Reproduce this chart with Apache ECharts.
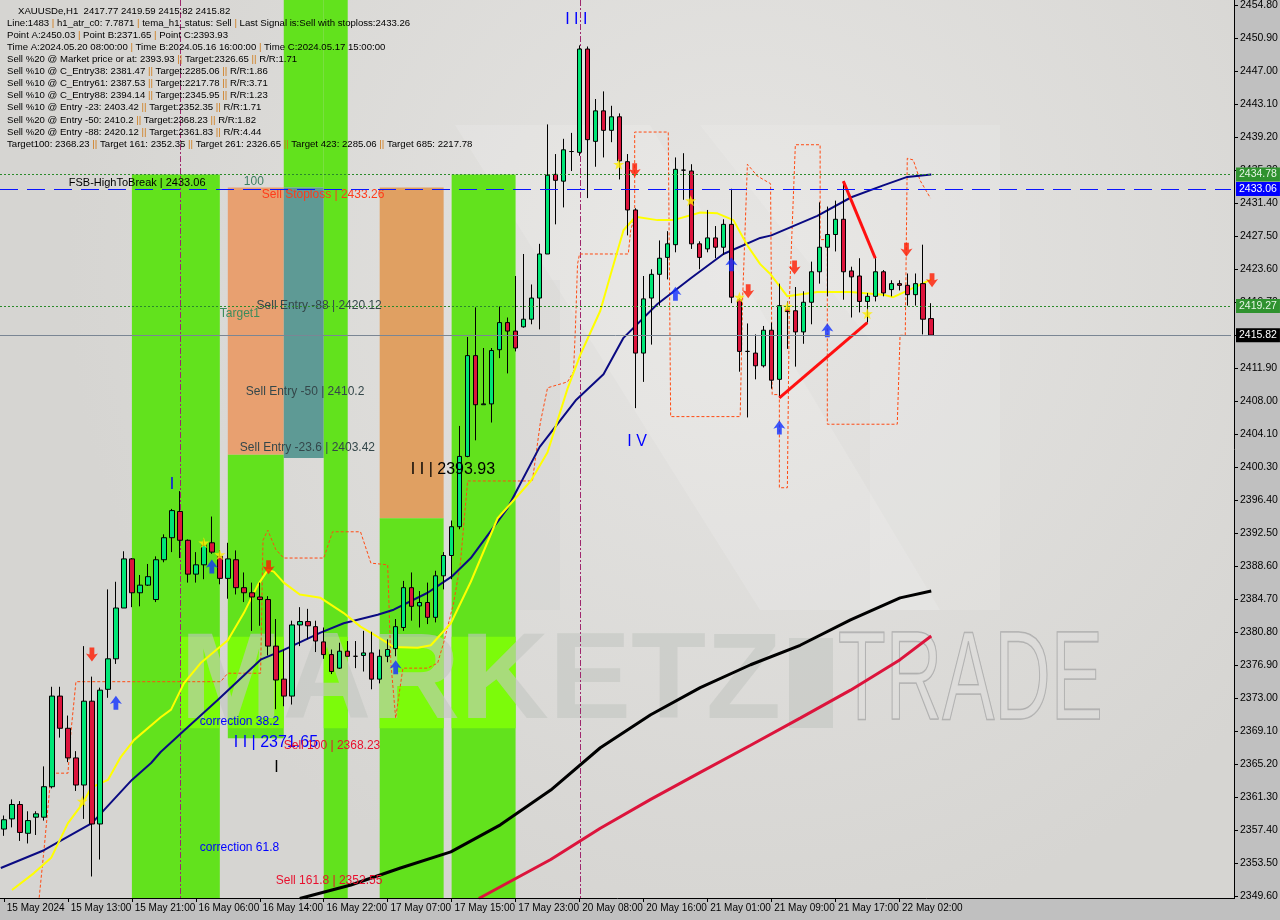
<!DOCTYPE html>
<html><head><meta charset="utf-8">
<script src="https://cdn.jsdelivr.net/npm/echarts@6/dist/echarts.min.js"></script>
<style>html,body{margin:0;padding:0;background:#c0c0c0}#c{width:1280px;height:920px}</style>
</head><body><div id="c"></div>
<script>
// ---------- DATA ----------
const sessionDays = [['15 May',5,23],['16 May',1,23],['17 May',1,23],['20 May',1,23],['21 May',1,23],['22 May',1,6]];
const categories = [];
sessionDays.forEach(([d,a,b])=>{for(let h=a;h<=b;h++) categories.push(d+' '+String(h).padStart(2,'0')+':00');});
const xTickLabels = ['15 May 2024','15 May 13:00','15 May 21:00','16 May 06:00','16 May 14:00','16 May 22:00','17 May 07:00','17 May 15:00','17 May 23:00','20 May 08:00','20 May 16:00','21 May 01:00','21 May 09:00','21 May 17:00','22 May 02:00'];
const yTickValues = [2454.80,2450.90,2447.00,2443.10,2439.20,2435.30,2431.40,2427.50,2423.60,2419.70,2415.80,2411.90,2408.00,2404.10,2400.30,2396.40,2392.50,2388.60,2384.70,2380.80,2376.90,2373.00,2369.10,2365.20,2361.30,2357.40,2353.50,2349.60];

const opens = [2357.5,2358.7,2360.4,2357.0,2358.9,2358.9,2362.5,2373.2,2369.4,2365.9,2362.7,2372.6,2358.1,2374.0,2377.6,2383.6,2389.4,2385.4,2386.3,2384.6,
2389.3,2391.9,2395.0,2391.6,2387.6,2388.7,2391.3,2389.7,2387.1,2389.3,2386.0,2385.4,2384.9,2384.6,2379.1,2375.2,2373.2,2381.6,2382.0,2381.4,
2379.6,2378.1,2376.5,2378.5,2377.9,2378.0,2378.3,2375.2,2377.9,2378.8,2381.3,2386.0,2383.85,2384.25,2382.5,2387.4,2389.8,2393.2,2401.5,2413.4,
2407.6,2407.7,2414.1,2417.3,2416.3,2416.8,2417.7,2420.2,2425.4,2434.8,2434.0,2437.5,2437.4,2449.6,2438.7,2442.3,2440.0,2441.6,2436.3,2430.6,
2413.7,2420.2,2423.0,2425.0,2426.5,2435.3,2435.2,2426.6,2426.0,2427.3,2426.2,2428.9,2420.0,2413.9,2413.7,2412.2,2416.4,2410.6,2418.9,2418.7,
2416.2,2419.7,2423.3,2426.2,2427.7,2429.5,2423.4,2422.8,2419.8,2420.4,2423.3,2421.2,2421.9,2421.7,2420.6,2421.9,2417.77];
const highs = [2359.1,2361.0,2360.8,2359.6,2359.6,2364.9,2374.3,2374.3,2370.9,2366.7,2379.1,2375.5,2374.2,2385.8,2386.7,2390.3,2389.5,2387.5,2388.8,2389.7,
2392.3,2395.3,2397.4,2391.7,2390.2,2391.7,2394.4,2390.4,2391.3,2390.4,2387.8,2386.6,2386.6,2385.0,2382.3,2378.7,2382.1,2383.7,2383.5,2382.1,
2381.3,2378.7,2379.5,2379.7,2379.7,2380.9,2380.8,2378.7,2379.9,2382.3,2386.8,2387.8,2385.6,2386.6,2388.0,2390.2,2393.93,2405.1,2415.6,2419.1,
2414.3,2414.3,2419.2,2417.9,2422.8,2425.4,2421.8,2426.6,2440.7,2437.2,2439.0,2439.7,2450.03,2449.9,2443.7,2444.6,2442.9,2442.0,2437.2,2430.8,
2422.8,2423.6,2427.0,2428.1,2436.8,2437.3,2436.0,2426.9,2430.6,2428.7,2429.5,2433.1,2420.2,2417.2,2415.9,2416.9,2417.3,2421.9,2419.8,2421.5,
2421.0,2424.5,2431.5,2431.0,2431.7,2434.0,2423.9,2424.9,2420.8,2424.9,2423.5,2422.3,2422.3,2423.1,2423.1,2426.5,2419.59];
const lows = [2356.7,2357.7,2356.1,2355.8,2356.8,2358.5,2362.3,2368.3,2365.4,2362.0,2358.7,2351.9,2353.9,2373.0,2377.0,2383.6,2383.7,2383.8,2386.2,2384.3,
2389.0,2390.2,2389.5,2386.6,2386.6,2387.0,2390.0,2386.4,2384.7,2385.2,2384.3,2380.9,2381.5,2378.0,2371.65,2372.0,2372.2,2379.1,2379.9,2378.4,
2377.6,2375.8,2376.4,2377.9,2376.5,2376.1,2374.0,2374.7,2377.2,2377.9,2380.9,2382.1,2381.3,2381.7,2381.9,2385.8,2387.0,2392.9,2401.4,2403.4,
2407.6,2405.5,2413.1,2411.3,2413.9,2416.7,2417.1,2416.5,2425.4,2428.9,2430.9,2435.2,2437.0,2432.0,2435.7,2436.8,2438.6,2434.2,2427.6,2407.2,
2410.3,2414.7,2419.3,2422.4,2425.6,2431.8,2426.0,2423.6,2425.6,2424.9,2425.3,2419.6,2411.5,2406.1,2410.6,2412.0,2409.5,2408.4,2414.2,2412.1,
2414.8,2417.1,2421.9,2420.4,2425.7,2420.0,2417.9,2418.5,2417.3,2419.8,2420.4,2420.4,2421.1,2419.3,2419.3,2415.9,2415.82];
const closes = [2358.6,2360.4,2357.1,2358.5,2359.3,2362.5,2373.2,2369.4,2365.9,2362.7,2372.6,2358.1,2373.9,2377.6,2383.6,2389.4,2385.4,2386.3,2387.3,2389.3,
2391.9,2395.1,2391.6,2387.6,2388.7,2391.0,2390.2,2387.1,2389.4,2386.0,2385.4,2384.9,2384.6,2379.1,2375.1,2373.2,2381.6,2382.0,2381.5,2379.7,
2378.1,2376.1,2378.5,2377.9,2377.9,2378.3,2375.2,2377.9,2378.7,2381.4,2386.0,2383.8,2384.25,2382.5,2387.4,2389.8,2393.2,2401.5,2413.4,2407.6,
2407.7,2414.0,2417.3,2416.3,2414.3,2417.7,2420.2,2425.4,2434.7,2434.1,2437.7,2437.5,2449.6,2438.9,2442.3,2440.0,2441.6,2436.4,2430.6,2413.7,
2420.1,2423.0,2424.9,2426.6,2435.4,2435.3,2426.6,2425.0,2427.3,2426.2,2428.9,2420.3,2413.9,2413.9,2412.2,2416.4,2410.5,2419.3,2418.6,2416.2,
2419.7,2423.3,2426.2,2427.7,2429.5,2423.3,2422.7,2419.8,2420.4,2423.3,2420.8,2421.9,2421.7,2420.6,2421.9,2417.7,2415.82];

// moving averages: [bar index, price]
const navyMA = [[-0.4,2352.9],[5,2355.0],[11,2358.2],[16,2363.3],[18.4,2365.3],[19.6,2366.6],[22.5,2369.1],[26.7,2372.7],[32.1,2377.5],[35,2378.65],[39.6,2380.7],[42.5,2381.8],[46.75,2382.8],[48.75,2383.4],[53,2385.4],[56,2387.3],[58.4,2389.5],[63,2395.4],[67,2402.6],[71.6,2408.2],[75,2411.2],[77.5,2415.5],[81.75,2419.5],[86,2422.6],[90,2425.4],[94.6,2427.3],[96,2427.6],[101.75,2429.9],[106,2432.1],[110,2433.5],[113,2434.5],[116,2434.78]];
const yellowMA = [[1,2350.3],[3.75,2352.3],[5.9,2354.1],[8,2358.2],[9.9,2360.6],[10.9,2362.4],[13,2363.3],[14.6,2366.0],[16.25,2368.0],[19.6,2370.7],[20.9,2371.6],[22.5,2374.7],[24.6,2377.1],[28,2379.8],[30,2383.0],[31.75,2386.3],[33,2388.1],[33.75,2387.9],[35,2386.6],[37,2385.2],[39.6,2384.8],[42.5,2383.0],[44.6,2381.4],[46.75,2380.2],[48.75,2379.0],[51.75,2378.9],[53.4,2379.2],[55.9,2381.8],[58.4,2386.7],[61.75,2394.2],[65.9,2398.6],[68,2402.0],[70.5,2409.5],[72.1,2413.5],[74.6,2418.7],[75.9,2423.0],[77.5,2428.2],[79,2429.8],[81.75,2429.4],[83.75,2429.4],[87.1,2430.3],[89.25,2430.2],[91.25,2429.4],[93,2426.4],[94.6,2424.2],[95.9,2423.0],[98,2420.4],[101.75,2420.9],[105.9,2420.9],[110,2420.6],[111.25,2420.3],[114.25,2421.6],[116,2422.4]];
const blackMA = [[37,2349.3],[43.4,2350.9],[49.6,2352.9],[55.9,2354.8],[62.1,2358.0],[68.4,2362.1],[74.6,2367.1],[80.9,2371.0],[87.1,2374.2],[93.4,2376.9],[99.6,2379.2],[105.9,2382.2],[112.1,2384.8],[116,2385.6]];
const crimsonMA = [[59.4,2349.3],[68.4,2353.9],[74.6,2357.6],[80.9,2361.0],[87.1,2364.2],[93.4,2367.4],[99.6,2370.6],[105.9,2373.9],[112.1,2377.5],[116,2380.3]];
const channelPath = [[4.4,2349.4],[5,2355.0],[5.9,2364.1],[8,2364.1],[8.4,2369.2],[9,2374.9],[27.1,2374.9],[28,2375.9],[32.1,2375.9],[32.4,2391.6],[33,2392.8],[34,2390.5],[35,2389.5],[40,2389.5],[41.1,2392.6],[44.6,2392.6],[45.9,2388.9],[48,2388.7],[48.4,2377.1],[49,2370.6],[49.9,2376.5],[53,2376.5],[54.25,2377.1],[55,2379.5],[56.25,2384.2],[57.1,2388.9],[58,2398.6],[66.1,2398.6],[67.1,2405.5],[68,2409.6],[70.5,2410.3],[71.25,2411.5],[71.5,2417.0],[71.75,2424.2],[72,2425.4],[78.1,2425.4],[78.4,2428.2],[78.9,2429.8],[78.9,2439.8],[83.1,2439.8],[83.4,2406.2],[92.1,2406.2],[92.4,2420.0],[93,2436.0],[94.25,2434.6],[95.9,2433.7],[96.1,2408.8],[97,2408.8],[97,2397.8],[98,2397.8],[98.25,2420.0],[99,2438.3],[102.1,2438.3],[102.1,2427.1],[103,2427.1],[103,2405.3],[111.75,2405.3],[112.1,2415.8],[112.75,2415.8],[113,2436.7],[113.75,2436.5],[114.6,2434.1],[115.9,2432.0]];
const trendLines = [[[97,2408.4],[108,2417.3]],[[105,2434.0],[109,2424.9]]];
const sellArrows = [[11,2378.1],[33.1,2388.4],[78.9,2435.3],[93.1,2421.0],[98.9,2423.8],[112.9,2425.9],[116.1,2422.3]];
const buyArrows = [[14,2372.4],[26,2388.5],[49,2376.6],[84,2420.7],[91,2424.2],[97,2404.9],[103,2416.4]];
const stars = [[9.8,2360.8],[25,2391.3],[27,2389.9],[76.9,2436.0],[85.9,2431.7],[92,2420.3],[98,2419.2],[108,2418.35]];
const priceLevels = [2434.78,2433.06,2419.27,2415.82];
const vLineBars = [22,72];

// ---------- LAYOUT / STYLE ----------
const N = 154;                // bar slots across the plot (8px each)
const Y_MIN = 2349.36, Y_MAX = 2455.39;
const FONT = '"Liberation Sans", Arial, sans-serif';
const GREEN = '#62e21d';
const LIME = '#7cfb0a';
// rectangles: [x0 bar, x1 bar, top price, bottom price, colour]
const zoneRects = [
  [16,27,2434.78,Y_MIN,GREEN],
  [28,35,2433.26,2401.7,'#e8a070'],
  [28,35,2401.7,2368.23,GREEN],
  [35,40,Y_MAX,2433.26,GREEN],
  [35,40,2433.26,2401.3,'#5e9a95'],
  [40,43,Y_MAX,Y_MIN,GREEN],
  [47,55,2433.26,2394.2,'#e0a062'],
  [47,55,2394.2,Y_MIN,GREEN],
  [56,64,2434.78,Y_MIN,GREEN],
  // lighter watermark tint over the green zones
  [22.1,27,2380.2,2369.4,LIME],[28,35,2380.2,2369.4,LIME],[40,43,2380.2,2369.4,LIME],[47,55,2380.2,2369.4,LIME],[56,64,2380.2,2369.4,LIME]
];
// annotations: [bar, price, text, colour, font, align]
const annotations = [
  [8.1,2433.8,'FSB-HighToBreak | 2433.06','#000','11px '+FONT,'left'],
  [30,2433.9,'100','#3f7f62','12px '+FONT,'left'],
  [32.25,2432.4,'Sell Stoploss | 2433.26','#ff3b1a','12px '+FONT,'left'],
  [31.6,2419.3,'Sell Entry -88 | 2420.12','#34474a','12px '+FONT,'left'],
  [27,2418.4,'Target1','#3c8c5c','12px '+FONT,'left'],
  [30.25,2409.2,'Sell Entry -50 | 2410.2','#34474a','12px '+FONT,'left'],
  [29.5,2402.5,'Sell Entry -23.6 | 2403.42','#34474a','12px '+FONT,'left'],
  [50.9,2399.9,'I I | 2393.93','#000','16px '+FONT,'left'],
  [24.5,2370.2,'correction 38.2','#0000ff','12px '+FONT,'left'],
  [28.75,2367.7,'I I | 2371.65','#0000ff','16px '+FONT,'left'],
  [35,2367.3,'Sell 100 | 2368.23','#e8102e','12px '+FONT,'left'],
  [24.5,2355.3,'correction 61.8','#0000ff','12px '+FONT,'left'],
  [34,2351.4,'Sell 161.8 | 2352.55','#e8102e','12px '+FONT,'left'],
  [71.6,2453.1,'I I I','#0000ff','16px '+FONT,'center'],
  [79.2,2403.3,'I V','#0000ff','16px '+FONT,'center'],
  [21,2398.2,'I','#0000ff','16px '+FONT,'center'],
  [34.1,2364.7,'I','#000','16px '+FONT,'center']
];
const infoLines = [
  'XAUUSDe,H1  2417.77 2419.59 2415.82 2415.82',
  'Line:1483 | h1_atr_c0: 7.7871 | tema_h1_status: Sell | Last Signal is:Sell with stoploss:2433.26',
  'Point A:2450.03 | Point B:2371.65 | Point C:2393.93',
  'Time A:2024.05.20 08:00:00 | Time B:2024.05.16 16:00:00 | Time C:2024.05.17 15:00:00',
  'Sell %20 @ Market price or at: 2393.93 || Target:2326.65 || R/R:1.71',
  'Sell %10 @ C_Entry38: 2381.47 || Target:2285.06 || R/R:1.86',
  'Sell %10 @ C_Entry61: 2387.53 || Target:2217.78 || R/R:3.71',
  'Sell %10 @ C_Entry88: 2394.14 || Target:2345.95 || R/R:1.23',
  'Sell %10 @ Entry -23: 2403.42 || Target:2352.35 || R/R:1.71',
  'Sell %20 @ Entry -50: 2410.2 || Target:2368.23 || R/R:1.82',
  'Sell %20 @ Entry -88: 2420.12 || Target:2361.83 || R/R:4.44',
  'Target100: 2368.23 || Target 161: 2352.35 || Target 261: 2326.65 || Target 423: 2285.06 || Target 685: 2217.78'
];

// ---------- BUILD ----------
const allCats = categories.slice();
for (let k = categories.length; k < N; k++) allCats.push('f' + k);
const candleData = opens.map((o,i)=>[o, closes[i], lows[i], highs[i]]);
const lastTick = (xTickLabels.length-1)*8;
const tickShow = (idx)=> idx%8===0 && idx<=lastTick;

const levelStyles = [
  {line:{color:'#2a8a2a',type:[2,2],width:1}, bg:'#2f922f', fg:'#e6f6e6'},
  {line:{color:'#0a14ff',type:[18,9],width:1}, bg:'#0000ff', fg:'#ffffff'},
  {line:{color:'#2a8a2a',type:[2,2],width:1}, bg:'#2f922f', fg:'#e6f6e6'},
  {line:{color:'#7a8694',type:'solid',width:1}, bg:'#000000', fg:'#ffffff'}
];

const infoGraphics = infoLines.map((t,k)=>{
  const rich = t.replace(/\|\|/g,'\u0001').replace(/\|/g,'{s||}').replace(/\u0001/g,'{s|||}');
  return {type:'text', x: k===0?18:7, y: 11 + k*12.1, z: 50,
    style:{text: rich, fill:'#000', font:'9.6px '+FONT, verticalAlign:'middle', textVerticalAlign:'middle',
      rich:{s:{fill:'#d07a18', font:'9.6px '+FONT}}}};
});

const chart = echarts.init(document.getElementById('c'), null, {renderer:'canvas'});
const option = {
  animation:false,
  backgroundColor:'#c0c0c0',
  grid:{left:-1, top:0, width:N*8, height:898, containLabel:false},
  xAxis:[
    {type:'category', data: allCats, boundaryGap:true,
     axisLine:{show:false},
     axisTick:{show:true, alignWithLabel:true, interval:(i)=>tickShow(i), length:4, lineStyle:{color:'#000'}},
     axisLabel:{interval:(i)=>tickShow(i), align:'left', margin:5, color:'#000', fontSize:10, fontFamily:FONT,
       formatter:(v,i)=> tickShow(i) ? ' ' + xTickLabels[i/8] : ''},
     splitLine:{show:false}},
    {type:'value', min:-0.5, max:N-0.5, show:false}
  ],
  yAxis:{type:'value', show:false, min:Y_MIN, max:Y_MAX, splitLine:{show:false}},
  graphic:{elements:[
    {type:'rect', shape:{x:0,y:0,width:1234,height:898}, z:-10, silent:true,
     style:{fill:{type:'radial', x:0.6, y:0.3, r:0.75, colorStops:[{offset:0,color:'#e6e5e3'},{offset:1,color:'#d6d5d2'}]}}},
    // big faint logo behind
    {type:'polygon', z:-9, silent:true, shape:{points:[[455,125],[650,125],[940,610],[760,610]]}, style:{fill:'rgba(255,255,255,0.14)'}},
    {type:'polygon', z:-9, silent:true, shape:{points:[[700,125],[1000,125],[1000,610],[870,610],[870,340]]}, style:{fill:'rgba(255,255,255,0.12)'}},
    {type:'polygon', z:-9, silent:true, shape:{points:[[455,280],[560,280],[560,610],[455,610]]}, style:{fill:'rgba(190,190,190,0.14)'}},
    // watermark text
    {type:'text', x:180, y:684, z:3, silent:true, style:{text:'MARKETZ', font:'bold 123px '+FONT, fill:'rgba(196,198,194,0.62)', verticalAlign:'middle', textVerticalAlign:'middle'}},
    {type:'rect', z:3, silent:true, shape:{x:789,y:638,width:44,height:90}, style:{fill:'rgba(196,198,194,0.62)'}},
    {type:'text', x:838, y:684, z:3, scaleX:0.62, silent:true, style:{text:'TRADE', font:'126px '+FONT, fill:'rgba(230,230,230,0.2)', stroke:'rgba(165,165,165,0.85)', lineWidth:1.6, verticalAlign:'middle', textVerticalAlign:'middle'}},
    // axis lines
    {type:'line', z:40, silent:true, shape:{x1:0,y1:898.5,x2:1235,y2:898.5}, style:{stroke:'#000',lineWidth:1}},
    {type:'line', z:40, silent:true, shape:{x1:1234.5,y1:0,x2:1234.5,y2:899}, style:{stroke:'#000',lineWidth:1}},
    ...infoGraphics
  ]},
  series:[
    {type:'custom', name:'zones', xAxisIndex:1, yAxisIndex:0, z:1, silent:true, clip:true,
     data: zoneRects.map((r,k)=>[r[0],r[1],r[2],r[3],k]),
     renderItem:(params, api)=>{
       const r = zoneRects[api.value(4)];
       const p1 = api.coord([api.value(0), api.value(2)]);
       const p2 = api.coord([api.value(1), api.value(3)]);
       return {type:'rect', shape:{x:p1[0], y:p1[1], width:p2[0]-p1[0], height:p2[1]-p1[1]}, style:{fill:r[4]}};
     }},
    // price scale on the right (ticks + labels) placed through the value scale
    {type:'custom', name:'priceScale', xAxisIndex:1, yAxisIndex:0, z:30, silent:true, clip:false,
     data: yTickValues.map(v=>[v]),
     renderItem:(params, api)=>{
       const p = api.coord([N-0.5, api.value(0)]);
       const y = Math.round(p[1]) + 0.5;
       return {type:'group', children:[
         {type:'line', shape:{x1:p[0]+3, y1:y, x2:p[0]+7, y2:y}, style:{stroke:'#000', lineWidth:1}},
         {type:'text', x:p[0]+9, y:y, style:{text:api.value(0).toFixed(2), fill:'#000', font:'10.5px '+FONT, align:'left', verticalAlign:'middle', textAlign:'left', textVerticalAlign:'middle'}}
       ]};
     }},
    {type:'custom', name:'vlines', xAxisIndex:1, yAxisIndex:0, z:4, silent:true,
     data: vLineBars.map(v=>[v]),
     renderItem:(params, api)=>{
       const a = api.coord([api.value(0), Y_MAX]);
       const b = api.coord([api.value(0), Y_MIN]);
       return {type:'line', shape:{x1:Math.round(a[0])+0.5,y1:a[1],x2:Math.round(a[0])+0.5,y2:b[1]}, style:{stroke:'#a0286e', lineWidth:1, lineDash:[6,2,2,2]}};
     }},
    {type:'line', name:'channel', xAxisIndex:1, z:5, data:channelPath, showSymbol:false, silent:true,
     lineStyle:{color:'#ff4a12', width:1, type:[3,2]}},
    {type:'line', name:'MA black', xAxisIndex:1, z:6, data:blackMA, showSymbol:false, silent:true, lineStyle:{color:'#000', width:3}},
    {type:'line', name:'MA crimson', xAxisIndex:1, z:6, data:crimsonMA, showSymbol:false, silent:true, lineStyle:{color:'#dc143c', width:3}},
    {type:'line', name:'MA navy', xAxisIndex:1, z:6, data:navyMA, showSymbol:false, silent:true, lineStyle:{color:'#0a0a82', width:2}},
    {type:'line', name:'MA yellow', xAxisIndex:1, z:6, data:yellowMA, showSymbol:false, silent:true, lineStyle:{color:'#ffff00', width:2}},
    {type:'candlestick', name:'XAUUSDe,H1', xAxisIndex:0, z:8, data:candleData, barWidth:5,
     itemStyle:{color:'#00e676', color0:'#dc143c', borderColor:'#000', borderColor0:'#000', borderWidth:1},
     markLine:{silent:true, symbol:['none','none'], animation:false, z:35,
       data: priceLevels.map((v,k)=>({yAxis:v, lineStyle:levelStyles[k].line,
         label:{show:true, position:'end', distance:5, formatter:()=>v.toFixed(2), color:levelStyles[k].fg,
           backgroundColor:levelStyles[k].bg, padding:[2,3,1,3], fontSize:10.5, fontFamily:FONT}}))}},
    {type:'line', name:'trend1', xAxisIndex:1, z:9, data:trendLines[0], showSymbol:false, silent:true, lineStyle:{color:'#ff1010', width:3}},
    {type:'line', name:'trend2', xAxisIndex:1, z:9, data:trendLines[1], showSymbol:false, silent:true, lineStyle:{color:'#ff1010', width:3}},
    {type:'scatter', name:'sell', xAxisIndex:1, z:10, data:sellArrows, silent:true,
     symbol:'path://M3,0L7,0L7,6L10,5L5,12L0,5L3,6Z', symbolSize:[12,14], itemStyle:{color:'#ff1a00'}},
    {type:'scatter', name:'buy', xAxisIndex:1, z:10, data:buyArrows, silent:true,
     symbol:'path://M3,12L7,12L7,6L10,7L5,0L0,7L3,6Z', symbolSize:[12,14], itemStyle:{color:'#1030ff'}},
    {type:'scatter', name:'stars', xAxisIndex:1, z:10, data:stars, silent:true,
     symbol:'path://M5,0L6.2,3.6L10,3.6L7,5.9L8.1,9.5L5,7.3L1.9,9.5L3,5.9L0,3.6L3.8,3.6Z', symbolSize:11, itemStyle:{color:'#ffee00'}},
    {type:'custom', name:'labels', xAxisIndex:1, yAxisIndex:0, z:12, silent:true,
     data: annotations.map((a,k)=>[a[0],a[1],k]),
     renderItem:(params, api)=>{
       const a = annotations[api.value(2)];
       const p = api.coord([api.value(0), api.value(1)]);
       return {type:'text', x:p[0], y:p[1], style:{text:a[2], fill:a[3], font:a[4], align:a[5], textAlign:a[5], verticalAlign:'middle', textVerticalAlign:'middle'}};
     }}
  ]
};
chart.setOption(option);
</script>
</body></html>
